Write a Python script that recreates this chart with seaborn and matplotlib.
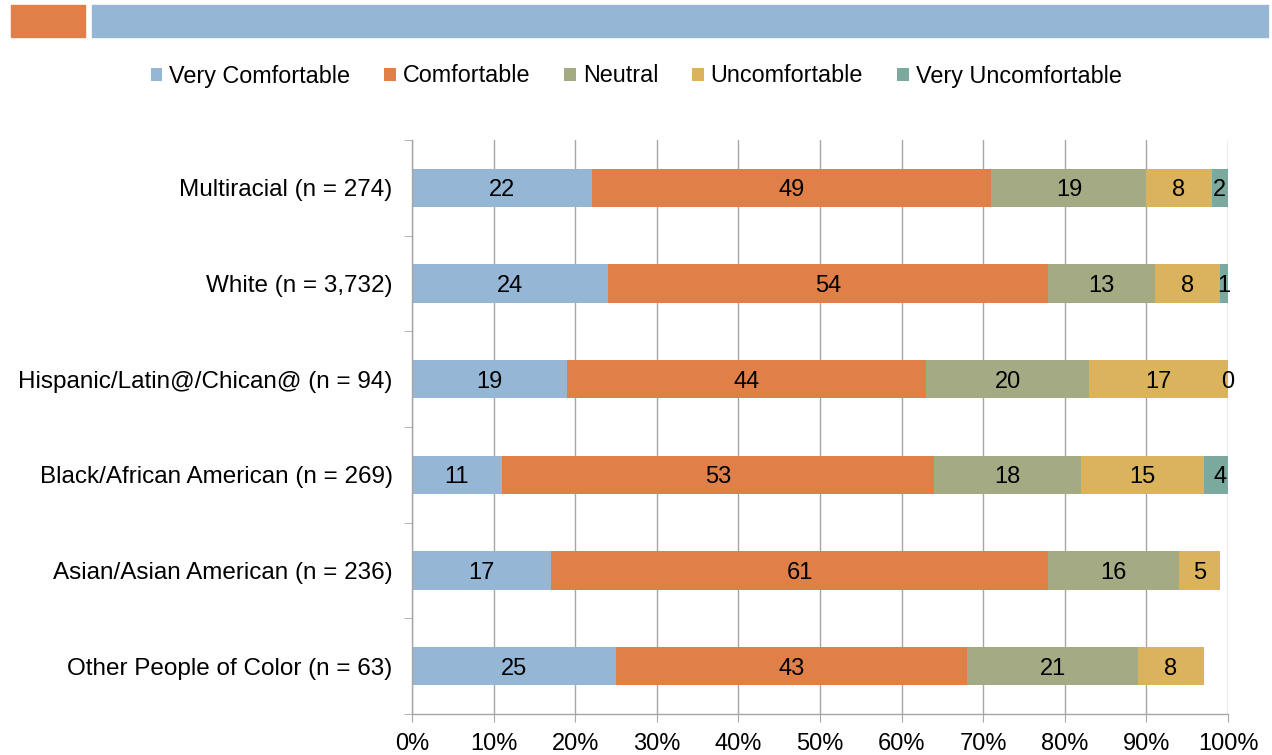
import numpy as np
import pandas as pd
import seaborn as sns
import matplotlib.pyplot as plt
from matplotlib.patches import Rectangle, Patch
from matplotlib.ticker import FixedLocator, PercentFormatter

groups = ["Multiracial (n = 274)", "White (n = 3,732)", "Hispanic/Latin@/Chican@ (n = 94)",
          "Black/African American (n = 269)", "Asian/Asian American (n = 236)",
          "Other People of Color (n = 63)"]
levels = ["Very Comfortable", "Comfortable", "Neutral", "Uncomfortable", "Very Uncomfortable"]
very_comf = [22, 24, 19, 11, 17, 25]
comf = [49, 54, 44, 53, 61, 43]
neutral = [19, 13, 20, 18, 16, 21]
uncomf = [8, 8, 17, 15, 5, 8]
very_uncomf = [2, 1, 0, 4, np.nan, np.nan]
colors = ["#95B6D4", "#E07F48", "#A4AA84", "#DCB35D", "#7BA99E"]

df = pd.DataFrame({"group": groups, "Very Comfortable": very_comf, "Comfortable": comf,
                   "Neutral": neutral, "Uncomfortable": uncomf, "Very Uncomfortable": very_uncomf})
cum = df[levels].fillna(0).cumsum(axis=1)

sns.set_style("white")
plt.rcParams["font.family"] = ["Liberation Sans", "DejaVu Sans"]
plt.rcParams["text.color"] = "black"
plt.rcParams["xtick.labelcolor"] = "black"
plt.rcParams["ytick.labelcolor"] = "black"
fig = plt.figure(figsize=(12.72, 7.55), dpi=100)
ax = fig.add_axes([412/1272, 1 - 714/755, 816/1272, 574/755])

# stack by drawing cumulative totals back to front
for lev, col in reversed(list(zip(levels, colors))):
    sns.barplot(x=cum[lev], y=df["group"], orient="h", color=col, saturation=1,
                width=0.4, linewidth=0, ax=ax)

for i in range(len(groups)):
    for lev in levels:
        v = df[lev][i]
        if np.isnan(v):
            continue
        left = cum[lev][i] - v
        ax.text(min(left + v / 2, 100), i, f"{int(v)}", ha="center", va="center_baseline",
                fontsize=17, color="black")

ax.set_xlim(0, 100)
ax.set_ylim(5.5, -0.5)
ax.set_xlabel("")
ax.set_ylabel("")
ax.xaxis.set_major_locator(FixedLocator(np.arange(0, 101, 10)))
ax.xaxis.set_major_formatter(PercentFormatter(100, decimals=0))
ax.grid(axis="x", color="#A6A6A6", linewidth=1)
ax.grid(axis="y", visible=False)
ax.set_axisbelow(True)
for s in ["top", "right"]:
    ax.spines[s].set_visible(False)
for s in ["left", "bottom"]:
    ax.spines[s].set_color("#A6A6A6")
    ax.spines[s].set_linewidth(1)
ax.tick_params(axis="x", length=6, color="#A6A6A6", labelsize=17, pad=8, bottom=True)
ax.tick_params(axis="y", which="major", length=0, labelsize=17.5, pad=14)
ax.yaxis.set_minor_locator(FixedLocator(np.arange(-0.5, 6, 1)))
ax.tick_params(axis="y", which="minor", length=6, color="#A6A6A6", left=True)

handles = [Patch(facecolor=c, edgecolor="none") for c in colors]
fig.legend(handles, levels, loc="center", bbox_to_anchor=(0.5, 1 - 76/755), ncol=5,
           frameon=False, fontsize=16.8, handlelength=0.5, handleheight=0.5,
           handletextpad=0.3, columnspacing=1.45)

fig.patches.append(Rectangle((11/1272, 1 - 37/755), 74/1272, 32/755,
                             transform=fig.transFigure, color="#E07F48"))
fig.patches.append(Rectangle((92/1272, 1 - 37/755), 1176/1272, 32/755,
                             transform=fig.transFigure, color="#95B6D4"))

fig.savefig("out.png", dpi=100)
